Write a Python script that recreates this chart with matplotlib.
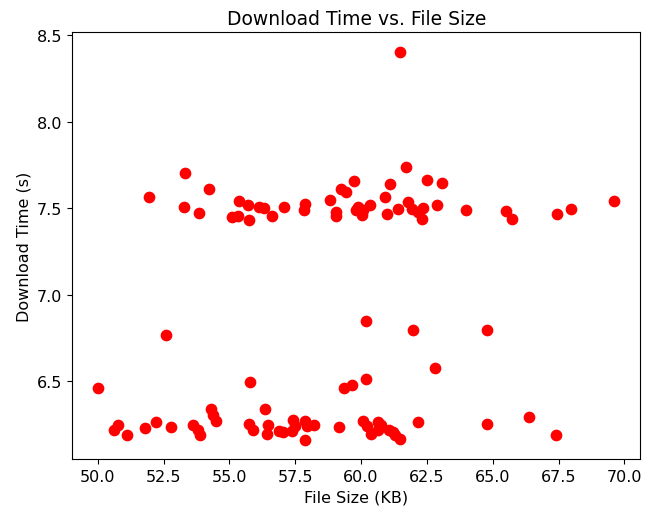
import numpy as np
import matplotlib.pyplot as plt

# values (file size KB, download time s)
size_upper = [51.96, 53.30, 53.26, 53.83, 54.21, 55.38, 55.69, 55.09, 55.31, 55.74,
              56.12, 56.31, 56.62, 57.06, 57.86, 57.82, 58.83, 59.04, 59.04, 59.24,
              59.42, 59.75, 59.82, 59.90, 60.09, 60.03, 60.35, 61.08, 60.91, 60.98,
              61.40, 61.70, 61.80, 61.95, 62.37, 62.31, 62.18, 62.51, 63.09, 62.88,
              64.00, 65.50, 65.73, 67.43, 67.97, 69.62, 61.46]
time_upper = [7.564, 7.702, 7.508, 7.475, 7.609, 7.541, 7.521, 7.450, 7.455, 7.434,
              7.508, 7.502, 7.453, 7.508, 7.524, 7.488, 7.547, 7.479, 7.455, 7.609,
              7.595, 7.659, 7.492, 7.508, 7.492, 7.459, 7.518, 7.638, 7.566, 7.469,
              7.494, 7.737, 7.537, 7.494, 7.504, 7.440, 7.480, 7.663, 7.649, 7.521,
              7.488, 7.483, 7.440, 7.469, 7.494, 7.541, 8.407]

size_lower = [50.01, 52.59, 50.61, 50.77, 51.11, 51.78, 52.21, 52.79, 53.62, 53.80,
              53.90, 54.30, 54.36, 54.49, 55.77, 55.76, 55.89, 56.36, 56.46, 56.42,
              56.87, 57.02, 57.41, 57.50, 57.37, 57.88, 57.94, 57.86, 58.20, 59.18,
              59.37, 59.65, 60.18, 61.96, 64.79, 62.79, 60.18, 60.06, 60.22, 60.39,
              60.64, 60.77, 60.66, 61.07, 61.20, 61.49, 61.29, 62.18, 64.79, 66.36,
              67.39]
time_lower = [6.461, 6.767, 6.219, 6.248, 6.186, 6.229, 6.262, 6.233, 6.248, 6.219,
              6.190, 6.336, 6.306, 6.267, 6.494, 6.254, 6.219, 6.339, 6.248, 6.194,
              6.209, 6.205, 6.277, 6.238, 6.213, 6.267, 6.238, 6.161, 6.248, 6.233,
              6.458, 6.475, 6.845, 6.795, 6.795, 6.577, 6.513, 6.267, 6.238, 6.194,
              6.262, 6.248, 6.219, 6.219, 6.205, 6.167, 6.190, 6.262, 6.252, 6.292,
              6.190]

file_size = np.array(size_upper + size_lower)
download_time = np.array(time_upper + time_lower)

plt.rcParams['font.size'] = 11.5

fig = plt.figure(figsize=(6.56, 5.1), dpi=100)
ax = fig.add_axes([0.110, 0.098, 0.866, 0.837])

ax.scatter(file_size, download_time, color='red', s=55)

ax.set_title("Download Time vs. File Size", fontsize=13.5)
ax.set_xlabel("File Size (KB)")
ax.set_ylabel("Download Time (s)")

fig.savefig("out.png")
